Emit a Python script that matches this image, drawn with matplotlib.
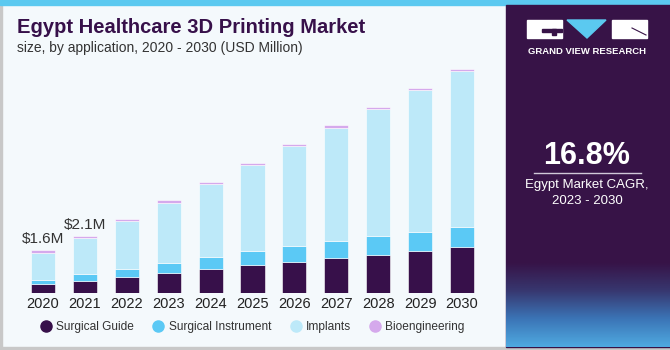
import numpy as np
import matplotlib
matplotlib.use("Agg")
import matplotlib.pyplot as plt
from matplotlib.patches import Rectangle, Polygon
from matplotlib.colors import LinearSegmentedColormap

plt.rcParams["font.family"] = ["Liberation Sans", "DejaVu Sans"]

years = ["2020", "2021", "2022", "2023", "2024", "2025", "2026", "2027", "2028", "2029", "2030"]
surgical_guide = [0.32, 0.45, 0.58, 0.74, 0.89, 1.03, 1.17, 1.29, 1.43, 1.55, 1.70]
surgical_instrument = [0.18, 0.25, 0.33, 0.39, 0.43, 0.52, 0.56, 0.63, 0.67, 0.71, 0.74]
implants = [1.00, 1.34, 1.75, 2.23, 2.74, 3.22, 3.74, 4.22, 4.74, 5.29, 5.80]
bioengineering = [0.09, 0.09, 0.09, 0.08, 0.08, 0.08, 0.08, 0.09, 0.09, 0.08, 0.08]
series_names = ["Surgical Guide", "Surgical Instrument", "Implants", "Bioengineering"]
colors = ["#37104a", "#5bc9f5", "#bde9f9", "#d5a9ec"]
labels = {0: "$1.6M", 1: "$2.1M"}

W, H = 670, 350
fig = plt.figure(figsize=(W / 100, H / 100), dpi=100)
fig.patch.set_facecolor("#f4f9fc")

def px(x, y, w, h):
    # pixel box (from top-left) -> figure fraction
    return [x / W, 1 - (y + h) / H, w / W, h / H]

# background / frame
bg = fig.add_axes([0, 0, 1, 1])
bg.set_xlim(0, W)
bg.set_ylim(H, 0)
bg.axis("off")
bg.add_patch(Rectangle((0, 0), W, H, color="#f4f9fc"))
bg.add_patch(Rectangle((0, 0), 1.5, H, color="#c8c8c8"))
bg.add_patch(Rectangle((0, 347), W, 3, color="#c8c8c8"))
bg.add_patch(Rectangle((0, 0), W, 5, color="#5bc9f0"))
bg.add_patch(Rectangle((506, 5), 164, 342, color="#371347"))

# gradient at bottom of side panel
grad = fig.add_axes(px(506, 262, 164, 85))
cmap = LinearSegmentedColormap.from_list("g", ["#371347", "#37376f", "#3b74b6", "#4fa9e0"])
grad.imshow(np.linspace(0, 1, 100).reshape(-1, 1), aspect="auto", cmap=cmap, extent=[0, 1, 1, 0])
grad.axis("off")

# main bar chart
ax = fig.add_axes(px(0, 60, 506, 233))
ax.set_facecolor("none")
x = np.arange(len(years))
bottom = np.zeros(len(years))
for vals, name, c in zip([surgical_guide, surgical_instrument, implants, bioengineering], series_names, colors):
    ax.bar(x, vals, 0.573, bottom=bottom, color=c, label=name, edgecolor="#ffffff", linewidth=0.4)
    bottom += np.array(vals)
for i, txt in labels.items():
    ax.text(x[i], bottom[i] + 0.15, txt, ha="center", va="bottom", fontsize=11, color="#333333")
ax.set_xlim(-1.026, 11.05)
ax.set_ylim(0, 8.66)
ax.set_xticks(x)
ax.set_xticklabels(years, fontsize=10.5, color="#222222")
ax.tick_params(axis="x", length=0, pad=3)
ax.set_yticks([])
for s in ax.spines.values():
    s.set_visible(False)

handles = [plt.Line2D([], [], marker="o", linestyle="", markersize=8, color=c) for c in colors]
ax.legend(handles, series_names, loc="center", bbox_to_anchor=(253 / 506, -0.147), ncol=4,
          frameon=False, fontsize=8.6, handlelength=0.8, columnspacing=1.65, handletextpad=0.45,
          labelcolor="#333333")

# titles
fig.text(17 / W, 1 - 33 / H, "Egypt Healthcare 3D Printing Market", fontsize=14.5, fontweight="bold",
         color="#37104a", va="baseline")
fig.text(17 / W, 1 - 52 / H, "size, by application, 2020 - 2030 (USD Million)", fontsize=10,
         color="#333333", va="baseline")

# logo
bg.add_patch(Rectangle((527, 20), 35, 18, color="white"))
bg.add_patch(Rectangle((542, 29), 20, 3, color="#371347"))
bg.add_patch(Rectangle((552, 29), 4, 6, color="#371347"))
bg.add_patch(Polygon([(567, 20), (606, 20), (587, 38)], color="#5bc9f0"))
bg.add_patch(Rectangle((612, 20), 35, 18, color="white"))
bg.plot([632, 646], [28, 35], color="#371347", lw=0.8)
bg.text(587, 51, "GRAND VIEW RESEARCH", color="white", fontsize=6.8, fontweight="bold",
        ha="center", va="center")

# CAGR block
bg.text(587, 156, "16.8%", color="white", fontsize=22, fontweight="bold", ha="center", va="center")
bg.plot([534, 641], [173, 173], color="#d0c8d8", lw=1)
bg.text(587, 185, "Egypt Market CAGR,", color="white", fontsize=9.5, ha="center", va="center")
bg.text(587, 201, "2023 - 2030", color="white", fontsize=9.5, ha="center", va="center")

bg.text(518, 316, "Source:", color="white", fontsize=8.5, fontweight="bold", ha="left", va="center")
bg.text(518, 331, "www.grandviewresearch.com", color="white", fontsize=8.5, ha="left", va="center")

fig.savefig("out.png", dpi=100, facecolor=fig.get_facecolor())
